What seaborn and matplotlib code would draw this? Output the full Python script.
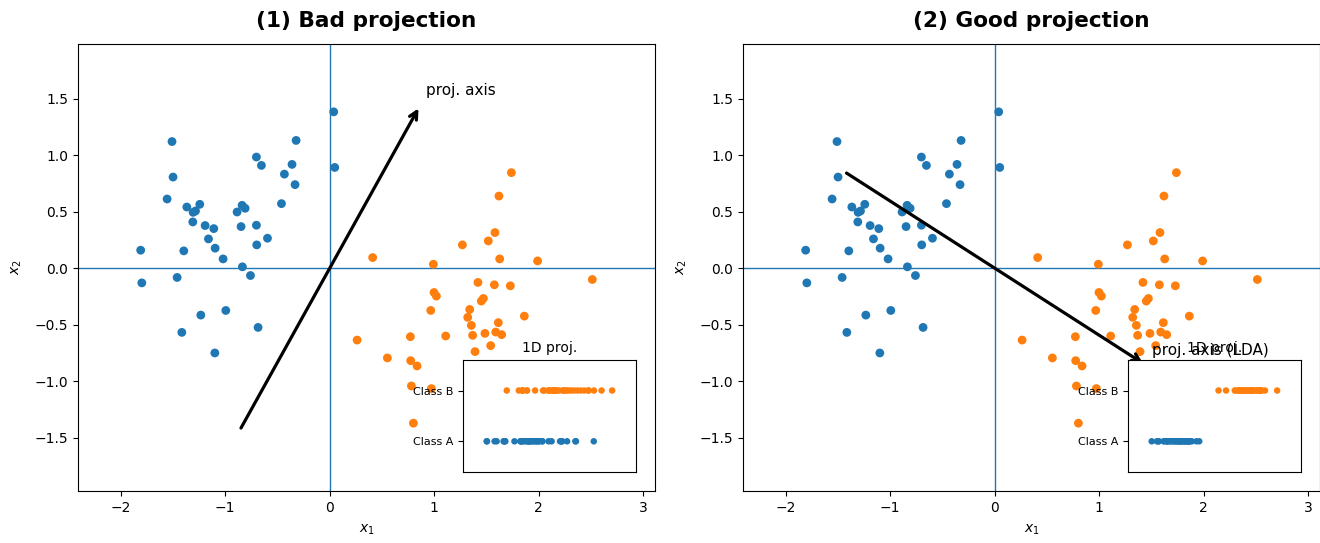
import numpy as np
import pandas as pd
import matplotlib
matplotlib.use("Agg")
import matplotlib.pyplot as plt
import seaborn as sns

# ---- data ----
blue_x = [-1.51, -1.50, -1.557, -1.81, -1.397, -1.368, -1.244, -1.308, -1.285, -1.311,
          -1.193, -1.110, -1.161, -1.097, -1.021, -0.836, -0.887, -0.839, -0.810, -0.849,
          -0.702, -0.699, -0.596, -0.702, -0.654, -0.462, -0.434, -0.361, -0.332, -0.322,
          0.038, 0.048, -1.799, -1.461, -0.759, -1.234, -0.995, -1.416, -0.686, -1.100]
blue_y = [1.12, 0.806, 0.612, 0.159, 0.153, 0.541, 0.565, 0.494, 0.506, 0.409,
          0.377, 0.350, 0.259, 0.177, 0.082, 0.012, 0.497, 0.556, 0.530, 0.368,
          0.380, 0.206, 0.265, 0.983, 0.909, 0.571, 0.832, 0.918, 0.739, 1.130,
          1.383, 0.891, -0.130, -0.082, -0.065, -0.415, -0.374, -0.568, -0.524, -0.750]
orange_x = [1.739, 1.620, 1.582, 1.518, 1.270, 0.411, 0.992, 1.627, 1.990, 2.514,
            1.419, 1.576, 1.729, 0.998, 1.021, 1.471, 1.451, 0.967, 1.340, 1.321,
            1.863, 1.356, 1.614, 0.262, 0.772, 1.110, 1.368, 1.486, 1.589, 1.646,
            1.541, 1.391, 0.552, 0.775, 0.836, 0.782, 0.973, 0.801]
orange_y = [0.845, 0.638, 0.315, 0.241, 0.206, 0.094, 0.035, 0.082, 0.064, -0.100,
            -0.126, -0.147, -0.156, -0.215, -0.247, -0.268, -0.291, -0.374, -0.365, -0.435,
            -0.424, -0.506, -0.482, -0.636, -0.606, -0.600, -0.594, -0.577, -0.565, -0.588,
            -0.685, -0.738, -0.794, -0.818, -0.865, -1.042, -1.065, -1.371]

class_labels = ["Class A", "Class B"]
titles = ["(1) Bad projection", "(2) Good projection"]
axis_texts = ["proj. axis", "proj. axis (LDA)"]
w_bad = [0.515, 0.857]
w_lda = [0.86, -0.51]
arrow_scale = 1.65

# ---- dataframe ----
df = pd.DataFrame({
    "x1": blue_x + orange_x,
    "x2": blue_y + orange_y,
    "cls": [class_labels[0]] * len(blue_x) + [class_labels[1]] * len(orange_x),
})
palette = {class_labels[0]: "#1f77b4", class_labels[1]: "#ff7f0e"}

fig = plt.figure(figsize=(13.2, 5.43), dpi=100)
ax_pos = [[78 / 1320, 52 / 543, 577 / 1320, 447 / 543],
          [743 / 1320, 52 / 543, 577 / 1320, 447 / 543]]

xlim = (df.x1.min() - 0.6, df.x1.max() + 0.6)
ylim = (df.x2.min() - 0.6, df.x2.max() + 0.6)

text_pos = [(0.92, 1.57), (1.51, -0.73)]

for i, w in enumerate([w_bad, w_lda]):
    ax = fig.add_axes(ax_pos[i])
    ax.axhline(0, color="#1f77b4", lw=1, zorder=0)
    ax.axvline(0, color="#1f77b4", lw=1, zorder=0)
    sns.scatterplot(data=df, x="x1", y="x2", hue="cls", palette=palette,
                    legend=False, ax=ax, s=40, linewidth=0, zorder=2)
    wv = np.array(w)
    start = -arrow_scale * wv
    end = arrow_scale * wv
    ax.annotate("", xy=end, xytext=start,
                arrowprops=dict(arrowstyle="->", lw=2.3, color="black",
                                shrinkA=0, shrinkB=0, mutation_scale=14),
                zorder=3)
    ax.text(text_pos[i][0], text_pos[i][1], axis_texts[i], fontsize=11,
            ha="left", va="center", zorder=4)
    ax.set_xlim(*xlim)
    ax.set_ylim(*ylim)
    ax.set_xlabel("$x_1$", labelpad=6)
    ax.set_ylabel("$x_2$", labelpad=8)
    ax.set_title(titles[i], fontsize=15.6, fontweight="bold", pad=12)

    # inset with 1D projection
    proj = df.x1 * wv[0] + df.x2 * wv[1]
    idf = pd.DataFrame({"p": proj, "c": df.cls.map({class_labels[0]: 0, class_labels[1]: 1}),
                        "cls": df.cls})
    ins = ax.inset_axes([0.667, 0.043, 0.30, 0.25])
    ins.set_facecolor("white")
    sns.scatterplot(data=idf, x="p", y="c", hue="cls", palette=palette,
                    legend=False, ax=ins, s=22, linewidth=0, zorder=2)
    span = proj.max() - proj.min()
    ins.set_xlim(proj.min() - 0.19 * span, proj.max() + 0.19 * span)
    ins.set_ylim(-0.6, 1.6)
    ins.set_yticks([0, 1])
    ins.set_yticklabels(class_labels, fontsize=8)
    ins.set_xticks([])
    ins.set_xlabel("")
    ins.set_ylabel("")
    ins.set_title("1D proj.", fontsize=10)

fig.savefig("out.png", dpi=100)
